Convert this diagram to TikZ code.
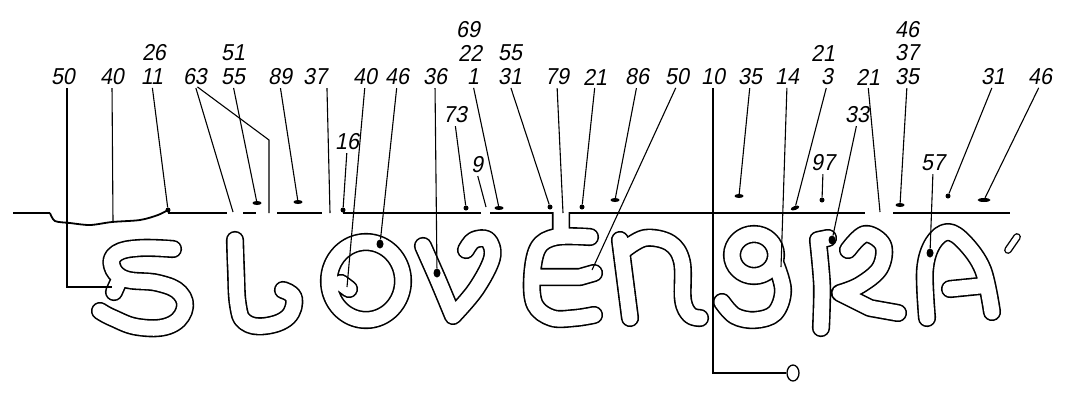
\documentclass[tikz,border=0pt]{standalone}
\usepackage{fontspec}
\newfontfamily\labfont[FakeSlant=0.2]{Liberation Sans}
\usetikzlibrary{shapes.geometric}
\begin{document}
\begin{tikzpicture}[x=1pt,y=-1pt,
  lab/.style={font={\labfont\fontsize{23}{24}\selectfont}, inner sep=0pt, outer sep=0pt, xscale=0.93},
  leader/.style={line width=1.1pt, shorten <=3pt},
  baseln/.style={line width=1.8pt},
  letter/.style={draw=black, line width=1.6pt, double=white, double distance=15pt, line cap=round, line join=round},
  dot/.style={fill=black, circle, inner sep=0pt, minimum size=5pt},
  dashmark/.style={fill=black, ellipse, inner sep=0pt, minimum width=9pt, minimum height=4pt},
  bigdot/.style={fill=black, ellipse, inner sep=0pt, minimum width=7pt, minimum height=9pt}]
\useasboundingbox[fill=white] (0,0) rectangle (1070,392);

% ---------- letters ----------
% S
\draw[letter] plot[smooth, tension=0.7] coordinates {(173,249) (140,248) (117,253) (112,266) (125,279) (158,283) (180,293) (184,311) (168,326) (138,327) (113,318) (100,311)}
  (118,283) -- (114,292);
% L
\draw[letter] plot[smooth, tension=0.7] coordinates {(235,240) (236,270) (238,305) (245,322) (265,326) (288,317) (294,298) (283,290)};
% O
\draw[letter] (366,281) ellipse [x radius=37pt, y radius=39pt] (341,283) -- (349,289);
% V
\draw[letter] plot[smooth, tension=0.5] coordinates {(423,246) (438,280) (453,316)}
  -- plot[smooth, tension=0.6] coordinates {(453,316) (476,289) (492,258) (488,240) (474,240) (466,250)};
% E
\draw[letter] (561,200) -- (561,236)
  plot[smooth, tension=0.6] coordinates {(590,237) (556,237) (538,248) (532,278) (535,305) (552,318) (575,318) (594,315)}
  (535,277) -- (580,277) -- (594,273);
\fill[white] (549,180) rectangle (574,212);
% n
\draw[letter] (620,240) -- (630,318)
  plot[smooth, tension=0.6] coordinates {(624,250) (645,238) (670,243) (682,262) (683,300) (690,315) (700,318)};
% S (second)
\draw[letter] (754,255) ellipse [x radius=22pt, y radius=21pt]
  plot[smooth, tension=0.6] coordinates {(775,262) (783,290) (775,313) (755,320) (735,316) (722,302)};
% K
\draw[letter] plot[smooth, tension=0.5] coordinates {(818,240) (822,285) (821,328)} (818,240) -- (828,238)
  plot[smooth, tension=0.6] coordinates {(848,250) (865,234) (883,245) (880,268) (860,285) (840,293)} -- (870,308) -- (898,313);
% A
\draw[letter] plot[smooth, tension=0.6] coordinates {(927,318) (925,270) (933,243) (948,232) (965,243) (983,270) (992,312)}
  (980,286) -- (950,289);
% accent
\draw[line width=1.4pt, double=white, double distance=5pt, line cap=round] (1017,237) -- (1008,250);

% ---------- base line ----------
\draw[baseln] plot[smooth, tension=0.5] coordinates {(50,213) (55,221) (70,223) (90,225) (112,222) (140,220) (158,215) (168,210)};
\draw[baseln] (13,213) -- (50,213);
\draw[baseln] (168,213) -- (227,213);
\draw[baseln] (243,213) -- (256,213);
\draw[baseln] (277,213) -- (322,213);
\draw[baseln] (343,213) -- (481,213);
\draw[baseln] (490,213) -- (553,213);
\draw[baseln] (570,213) -- (865,213);
\draw[baseln] (893,213) -- (1010,213);

% ---------- labels ----------
\node[lab] (L50a) at (63,77) {50};
\node[lab] (L40a) at (112,77) {40};
\node[lab] (L26) at (154,53) {26};
\node[lab] (L11) at (152,77) {11};
\node[lab] (L63) at (195,77) {63};
\node[lab] (L51) at (233,53) {51};
\node[lab] (L55a) at (233,77) {55};
\node[lab] (L89) at (280,77) {89};
\node[lab] (L37a) at (315,77) {37};
\node[lab] (L16) at (347,142) {16};
\node[lab] (L40b) at (365,77) {40};
\node[lab] (L46a) at (397,77) {46};
\node[lab] (L36) at (435,77) {36};
\node[lab] (L73) at (455,115) {73};
\node[lab] (L9) at (477,165) {9};
\node[lab] (L69) at (468,30) {69};
\node[lab] (L22) at (470,53) {22};
\node[lab] (L1) at (473,77) {1};
\node[lab] (L55b) at (510,53) {55};
\node[lab] (L31a) at (510,77) {31};
\node[lab] (L79) at (557,77) {79};
\node[lab] (L21a) at (595,77) {21};
\node[lab] (L86) at (637,77) {86};
\node[lab] (L50b) at (677,77) {50};
\node[lab] (L10) at (713,77) {10};
\node[lab] (L35a) at (750,77) {35};
\node[lab] (L14) at (787,77) {14};
\node[lab] (L21b) at (823,53) {21};
\node[lab] (L3) at (827,77) {3};
\node[lab] (L97) at (823,163) {97};
\node[lab] (L33) at (857,115) {33};
\node[lab] (L21c) at (868,77) {21};
\node[lab] (L46b) at (907,30) {46};
\node[lab] (L37b) at (907,53) {37};
\node[lab] (L35b) at (907,77) {35};
\node[lab] (L57) at (933,163) {57};
\node[lab] (L31b) at (993,77) {31};
\node[lab] (L46c) at (1040,77) {46};

% ---------- targets ----------
\coordinate (c50) at (67,287);
\coordinate (t50) at (112,287);
\coordinate (t40a) at (113,222);
\node[dot] (d11) at (168,210) {};
\coordinate (t63a) at (233,212);
\coordinate (c63) at (269,140);
\coordinate (t63b) at (269,213);
\node[dashmark] (d55a) at (257,203) {};
\node[dashmark] (d89) at (298,202) {};
\coordinate (t37a) at (330,213);
\node[dot] (d16) at (343,210) {};
\coordinate (t40b) at (347,287);
\node[bigdot] (d46a) at (380,244) {};
\node[bigdot] (d36) at (437,273) {};
\node[dot] (d73) at (466,208) {};
\coordinate (t9) at (486,207);
\node[dashmark] (d1) at (499,208) {};
\node[dot] (d31a) at (550,207) {};
\coordinate (t79) at (563,213);
\node[dot] (d21a) at (582,207) {};
\node[dashmark] (d86) at (615,200) {};
\coordinate (t50b) at (592,270);
\coordinate (c10) at (713,373);
\node[draw, ellipse, line width=1.3pt, inner sep=0pt, minimum width=12pt, minimum height=16pt] (ring) at (793,373) {};
\node[dashmark] (d35a) at (739,196) {};
\coordinate (t14) at (781,267);
\node[dashmark, rotate=20] (d3) at (795,208) {};
\node[dot] (d97) at (822,200) {};
\node[bigdot] (d33) at (832,240) {};
\coordinate (t21c) at (880,212);
\node[dashmark] (d35b) at (900,205) {};
\node[bigdot] (d57) at (930,253) {};
\node[dot] (d31b) at (948,196) {};
\node[dashmark, minimum width=13pt] (d46c) at (984,200) {};

% ---------- leaders ----------
\draw[leader] (L50a.south -| c50) -- (c50) -- (t50);
\draw[leader] (L40a.south) -- (t40a);
\draw[leader] (L11.south) -- (d11);
\draw[leader] (L63.south) -- (t63a);
\draw[leader] (L63.south) -- (c63) -- (t63b);
\draw[leader] (L55a.south) -- (d55a);
\draw[leader] (L89.south) -- (d89);
\draw[leader] (L37a.south east) -- (t37a);
\draw[leader] (L16.south) -- (d16);
\draw[leader] (L40b.south) -- (t40b);
\draw[leader] (L46a.south) -- (d46a);
\draw[leader] (L36.south) -- (d36);
\draw[leader] (L73.south) -- (d73);
\draw[leader] (L9.south) -- (t9);
\draw[leader] (L1.south) -- (d1);
\draw[leader] (L31a.south) -- (d31a);
\draw[leader] (L79.south) -- (t79);
\draw[leader] (L21a.south) -- (d21a);
\draw[leader] (L86.south) -- (d86);
\draw[leader] (L50b.south) -- (t50b);
\draw[leader] (L10.south) -- (c10) -- (ring.west);
\draw[leader] (L35a.south) -- (d35a);
\draw[leader] (L14.south) -- (t14);
\draw[leader] (L3.south) -- (d3);
\draw[leader] (L97.south) -- (d97);
\draw[leader] (L33.south) -- (d33);
\draw[leader] (L21c.south) -- (t21c);
\draw[leader] (L35b.south) -- (d35b);
\draw[leader] (L57.south) -- (d57);
\draw[leader] (L31b.south) -- (d31b);
\draw[leader] (L46c.south) -- (d46c);
\end{tikzpicture}
\end{document}
